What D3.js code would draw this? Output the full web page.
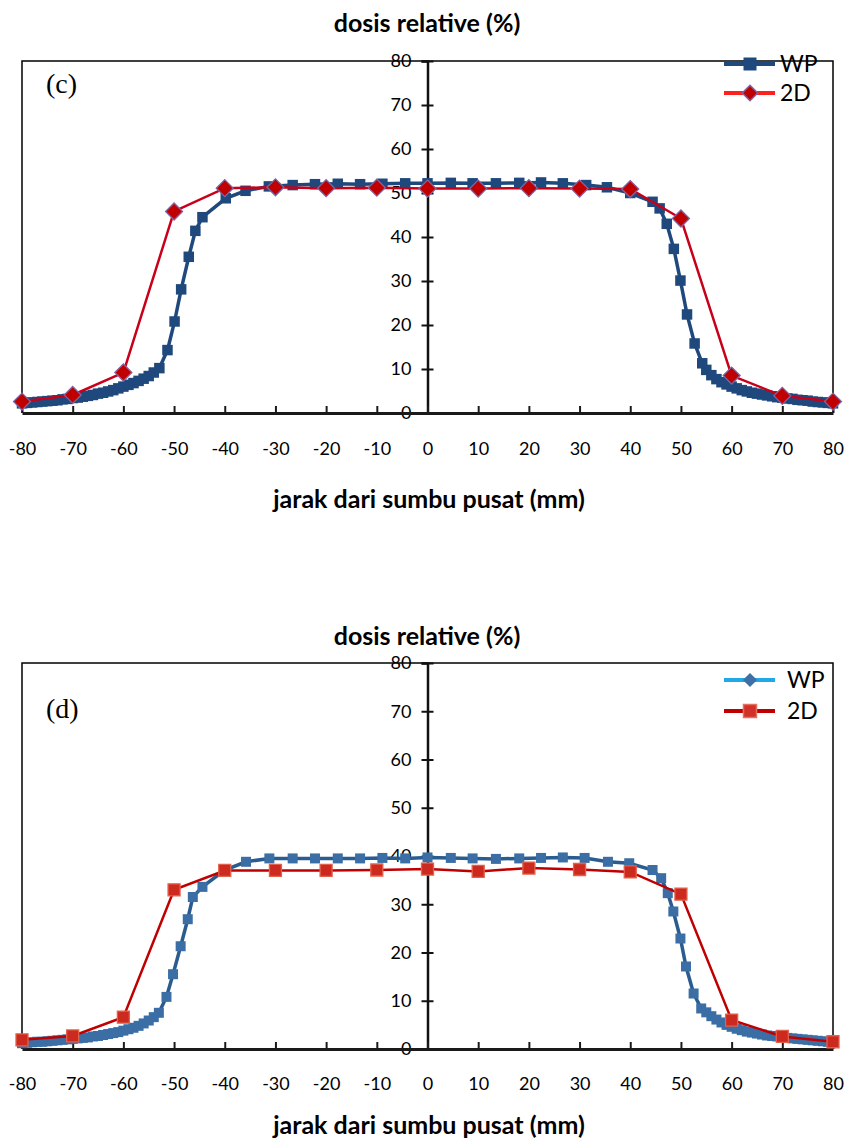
<!DOCTYPE html>
<html>
<head>
<meta charset="utf-8">
<script src="https://cdn.jsdelivr.net/npm/d3@7"></script>
<style>
  body { margin: 0; background: #fff; }
  svg { display: block; font-family: Lato, "Open Sans", sans-serif; }
</style>
</head>
<body>
<div id="chart"></div>
<script>
// tick labels
const xTicks = [-80, -70, -60, -50, -40, -30, -20, -10, 0, 10, 20, 30, 40, 50, 60, 70, 80];
const yTicks = [0, 10, 20, 30, 40, 50, 60, 70, 80];
const seriesNames = ["WP", "2D"];

// panel (c) - WP measurement
const cWpX = [-80, -79, -78, -77, -76, -75, -74, -73, -72, -71, -70, -69, -68, -67, -66, -65, -64, -63, -62, -61, -60, -59, -58, -57, -56, -55, -54,
  -52.9, -51.3, -49.9, -48.6, -47.1, -45.8, -44.4, -39.8, -35.9, -31.3, -26.6, -22.2, -17.7, -13.3, -8.9, -4.4, 0,
  4.6, 8.9, 13.5, 18.1, 22.4, 26.7, 31.3, 35.4, 40, 44.4, 45.8, 47.2, 48.6, 49.9, 51.2, 52.7, 54.2,
  55, 56, 57, 58, 59, 60, 61, 62, 63, 64, 65, 66, 67, 68, 69, 70, 71, 72, 73, 74, 75, 76, 77, 78, 79, 80];
const cWpY = [2.2, 2.3, 2.4, 2.5, 2.6, 2.7, 2.8, 2.9, 3.1, 3.2, 3.4, 3.5, 3.7, 3.9, 4.1, 4.4, 4.6, 4.9, 5.2, 5.6, 6.0, 6.4, 6.8, 7.3, 7.8, 8.4, 9.2,
  10.2, 14.3, 20.8, 28.1, 35.5, 41.4, 44.5, 48.8, 50.5, 51.5, 51.8, 52.0, 52.1, 52.0, 52.1, 52.2, 52.2,
  52.3, 52.2, 52.2, 52.3, 52.4, 52.2, 51.8, 51.3, 50.0, 48.0, 46.5, 43.0, 37.3, 30.1, 22.4, 15.8, 11.3,
  9.8, 8.6, 7.7, 7.0, 6.5, 6.0, 5.6, 5.2, 4.9, 4.6, 4.4, 4.2, 4.0, 3.8, 3.6, 3.5, 3.3, 3.2, 3.0, 2.9, 2.8, 2.6, 2.5, 2.4, 2.3, 2.2];

// panel (c) - 2D array
const c2dX = [-80, -70, -60, -50, -40, -30, -20, -10, 0, 10, 20, 30, 40, 50, 60, 70, 80];
const c2dY = [2.6, 4.1, 9.2, 45.8, 51.1, 51.3, 51.1, 51.2, 51.0, 51.0, 51.1, 51.0, 50.9, 44.2, 8.5, 3.9, 2.6];

// panel (d) - WP measurement
const dWpX = [-80, -79, -78, -77, -76, -75, -74, -73, -72, -71, -70, -69, -68, -67, -66, -65, -64, -63, -62, -61, -60, -59, -58, -57, -56, -55, -54,
  -53, -51.5, -50.2, -48.7, -47.3, -46.3, -44.4, -40, -35.8, -31.2, -26.6, -22.2, -17.7, -13.3, -8.9, -4.4, 0,
  4.6, 8.9, 13.5, 18.1, 22.4, 26.7, 31, 35.6, 39.8, 44.4, 46.1, 47.4, 48.5, 49.9, 51, 52.5, 54,
  55, 56, 57, 58, 59, 60, 61, 62, 63, 64, 65, 66, 67, 68, 69, 70, 71, 72, 73, 74, 75, 76, 77, 78, 79, 80];
const dWpY = [1.2, 1.3, 1.4, 1.5, 1.5, 1.6, 1.7, 1.8, 1.9, 2.0, 2.1, 2.2, 2.3, 2.4, 2.6, 2.7, 2.9, 3.1, 3.3, 3.5, 3.8, 4.1, 4.4, 4.8, 5.3, 5.9, 6.6,
  7.5, 10.8, 15.5, 21.3, 26.9, 31.5, 33.6, 37.1, 38.8, 39.5, 39.5, 39.5, 39.5, 39.5, 39.6, 39.5, 39.7,
  39.6, 39.5, 39.4, 39.5, 39.6, 39.7, 39.6, 38.8, 38.5, 37.1, 35.4, 32.3, 28.5, 22.9, 17.1, 11.5, 8.4,
  7.6, 6.8, 6.1, 5.5, 5.0, 4.6, 4.2, 3.9, 3.6, 3.4, 3.2, 3.0, 2.8, 2.7, 2.6, 2.5, 2.3, 2.2, 2.1, 2.0, 1.9, 1.8, 1.7, 1.6, 1.5, 1.4];

// panel (d) - 2D array
const d2dX = [-80, -70, -60, -50, -40, -30, -20, -10, 0, 10, 20, 30, 40, 50, 60, 70, 80];
const d2dY = [1.9, 2.7, 6.6, 33.0, 37.0, 37.0, 37.0, 37.1, 37.3, 36.8, 37.5, 37.2, 36.7, 32.1, 6.0, 2.6, 1.5];

const svg = d3.select("#chart").append("svg")
  .attr("width", 849)
  .attr("height", 1140);

const zip = (xs, ys) => xs.map((x, i) => ({ x: x, y: ys[i] }));

function drawPanel(p) {
  const g = svg.append("g");

  const x = d3.scaleLinear().domain([-80, 80]).range([22, 833]);
  const y = d3.scaleLinear().domain([0, 80]).range([p.bottom, p.top]);

  // frame
  g.append("path")
    .attr("d", `M${x(-80)},${y(0)}V${y(80)}H${x(80)}V${y(0)}`)
    .attr("fill", "none")
    .attr("stroke", "#000")
    .attr("stroke-width", 1.5);

  // title
  g.append("text")
    .attr("x", 427).attr("y", p.titleY)
    .attr("text-anchor", "middle")
    .attr("font-weight", "bold")
    .attr("font-size", 25)
    .text("dosis relative (%)");

  // x axis title
  g.append("text")
    .attr("x", 429).attr("y", p.axisTitleY)
    .attr("text-anchor", "middle")
    .attr("font-weight", "bold")
    .attr("font-size", 25)
    .text("jarak dari sumbu pusat (mm)");

  // panel tag
  g.append("text")
    .attr("x", 46).attr("y", p.tagY)
    .attr("font-family", "'Liberation Serif', 'DejaVu Serif', serif")
    .attr("font-size", 28)
    .text(p.tag);

  // y axis through x=0
  const yAxis = d3.axisLeft(y).tickValues(yTicks).tickSize(6).tickPadding(10)
    .tickFormat(d => String(d));
  const ya = g.append("g")
    .attr("transform", `translate(${x(0)},0)`)
    .call(yAxis);
  ya.select(".domain").attr("stroke", "#111").attr("stroke-width", 2.5);
  ya.selectAll(".tick line").attr("x1", 6).attr("x2", -6).attr("stroke", "#111").attr("stroke-width", 2);
  ya.selectAll(".tick text").attr("font-size", 18).attr("font-family", "Lato, sans-serif").attr("fill", "#000");

  // x axis along y=0, ticks pointing up, labels below frame
  const xAxis = d3.axisBottom(x).tickValues(xTicks).tickSize(0).tickPadding(0)
    .tickFormat(d => String(d));
  const xa = g.append("g")
    .attr("transform", `translate(0,${y(0)})`)
    .call(xAxis);
  xa.select(".domain").attr("stroke", "#1a1a1a").attr("stroke-width", 3);
  xa.selectAll(".tick line").attr("y1", 0).attr("y2", -7).attr("stroke", "#1a1a1a").attr("stroke-width", 2);
  xa.selectAll(".tick text")
    .attr("y", p.tickY - y(0))
    .attr("dy", "0.35em")
    .attr("font-size", 18)
    .attr("font-family", "Lato, sans-serif")
    .attr("fill", "#000");

  const line = d3.line().x(d => x(d.x)).y(d => y(d.y));

  const wp = zip(p.wpX, p.wpY);
  const two = zip(p.twoX, p.twoY);

  // WP series
  g.append("path").datum(wp)
    .attr("d", line)
    .attr("fill", "none")
    .attr("stroke", p.wpLine)
    .attr("stroke-width", 3.5);
  g.selectAll(null).data(wp).enter().append("path")
    .attr("d", d3.symbol(d3.symbolSquare, p.wpSize * p.wpSize))
    .attr("transform", d => `translate(${x(d.x)},${y(d.y)})`)
    .attr("fill", p.wpFill);

  // 2D series
  g.append("path").datum(two)
    .attr("d", line)
    .attr("fill", "none")
    .attr("stroke", p.twoLine)
    .attr("stroke-width", 2.5);
  g.selectAll(null).data(two).enter().append("path")
    .attr("d", d3.symbol(d3.symbolSquare, p.twoSize * p.twoSize))
    .attr("transform", d => `translate(${x(d.x)},${y(d.y)}) rotate(${p.twoRotate})`)
    .attr("fill", p.twoFill)
    .attr("stroke", p.twoStroke)
    .attr("stroke-width", 1.3);

  // legend
  const lg = g.append("g");
  seriesNames.forEach((name, i) => {
    const ly = p.legendY[i];
    const st = p.legend[i];
    lg.append("line")
      .attr("x1", 724).attr("x2", 775)
      .attr("y1", ly).attr("y2", ly)
      .attr("stroke", st.line)
      .attr("stroke-width", 4);
    lg.append("path")
      .attr("d", d3.symbol(d3.symbolSquare, st.size * st.size))
      .attr("transform", `translate(750,${ly}) rotate(${st.rotate})`)
      .attr("fill", st.fill)
      .attr("stroke", st.stroke)
      .attr("stroke-width", 1.5);
    lg.append("text")
      .attr("x", p.legendTextX).attr("y", ly)
      .attr("dy", "0.36em")
      .attr("font-size", 23)
      .text(name);
  });
}

drawPanel({
  top: 61, bottom: 413,
  titleY: 32, tickY: 449, axisTitleY: 508,
  tag: "(c)", tagY: 93,
  wpX: cWpX, wpY: cWpY, twoX: c2dX, twoY: c2dY,
  wpLine: "#1f497d", wpFill: "#1f497d", wpSize: 10.5,
  twoLine: "#c8001a", twoFill: "#c00000", twoStroke: "#8064a2", twoSize: 12, twoRotate: 45,
  legendY: [64, 93], legendTextX: 780,
  legend: [
    { line: "#1f497d", fill: "#1f497d", stroke: "none", size: 13, rotate: 0 },
    { line: "#ff2020", fill: "#c00000", stroke: "#8064a2", size: 11, rotate: 45 }
  ]
});

drawPanel({
  top: 663, bottom: 1049,
  titleY: 645, tickY: 1084, axisTitleY: 1134,
  tag: "(d)", tagY: 718,
  wpX: dWpX, wpY: dWpY, twoX: d2dX, twoY: d2dY,
  wpLine: "#2b5c8f", wpFill: "#3b6ea5", wpSize: 10,
  twoLine: "#c00000", twoFill: "#cc2a1e", twoStroke: "#e3604c", twoSize: 12, twoRotate: 0,
  legendY: [680, 711], legendTextX: 787,
  legend: [
    { line: "#22a8e6", fill: "#3e6fa6", stroke: "none", size: 10, rotate: 45 },
    { line: "#c00000", fill: "#d0322a", stroke: "#e57060", size: 13, rotate: 0 }
  ]
});
</script>
</body>
</html>
